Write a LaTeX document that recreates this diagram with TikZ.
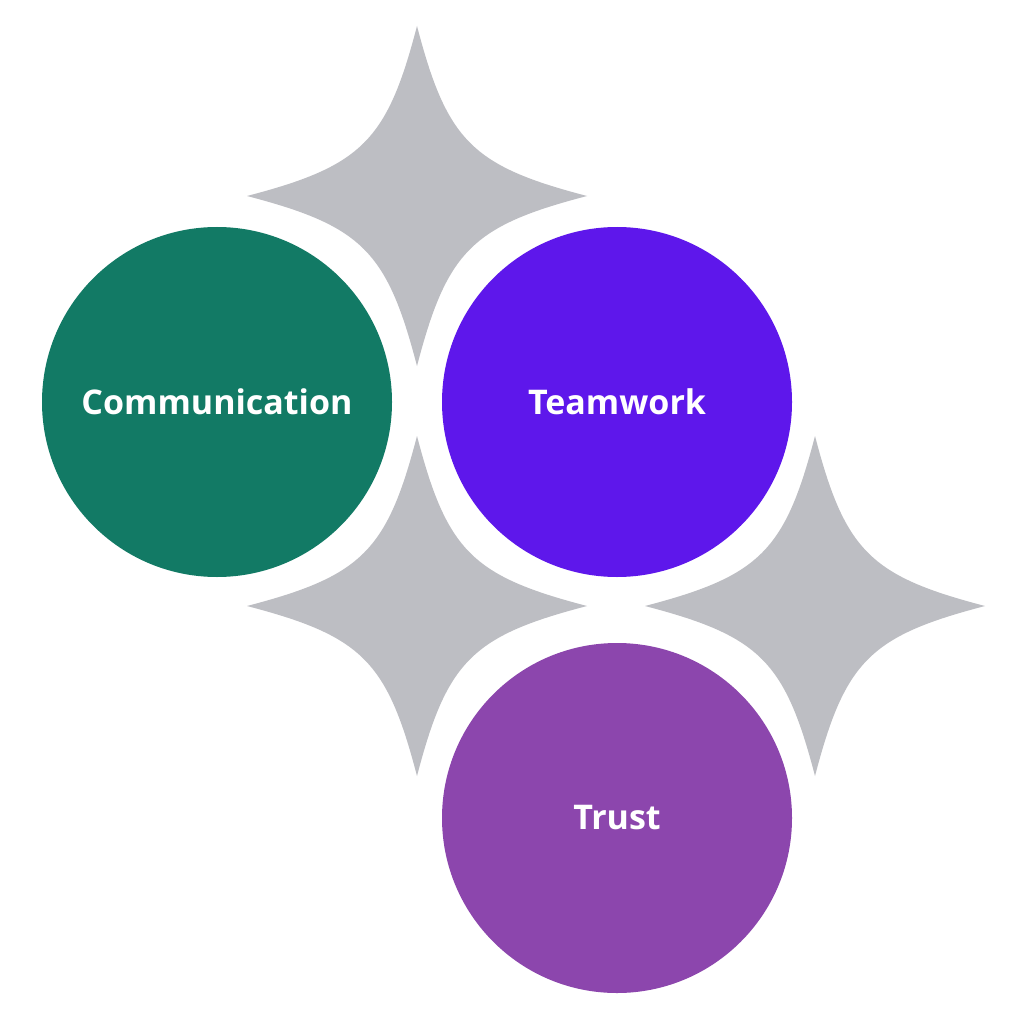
\documentclass[tikz,border=0pt]{standalone}
\usepackage{fontspec}
\setmainfont{Open Sans}
\definecolor{stargray}{RGB}{189,190,195}
\definecolor{commgreen}{RGB}{18,122,101}
\definecolor{teampurple}{RGB}{94,23,235}
\definecolor{trustpurple}{RGB}{140,70,173}
\tikzset{
  sparkle/.pic={
    \fill[stargray] (0,-170) .. controls (30,-55) and (55,-30) .. (170,0)
      .. controls (55,30) and (30,55) .. (0,170)
      .. controls (-30,55) and (-55,30) .. (-170,0)
      .. controls (-55,-30) and (-30,-55) .. (0,-170) -- cycle;
  },
  bubble/.style={circle, minimum size=350pt, inner sep=0pt, text=white,
    font=\fontsize{34}{38}\selectfont\bfseries}
}
\begin{document}
\begin{tikzpicture}[x=1pt,y=-1pt]
\fill[white] (0,0) rectangle (1024,1024);
\useasboundingbox (0,0) rectangle (1024,1024);
\pic at (417,196) {sparkle};
\pic at (417,606) {sparkle};
\pic at (815,606) {sparkle};
\node[bubble, fill=commgreen] (comm) at (217,402) {Communication};
\node[bubble, fill=teampurple] (team) at (617,402) {Teamwork};
\node[bubble, fill=trustpurple] (trust) at (617,818) {Trust};
\end{tikzpicture}
\end{document}
